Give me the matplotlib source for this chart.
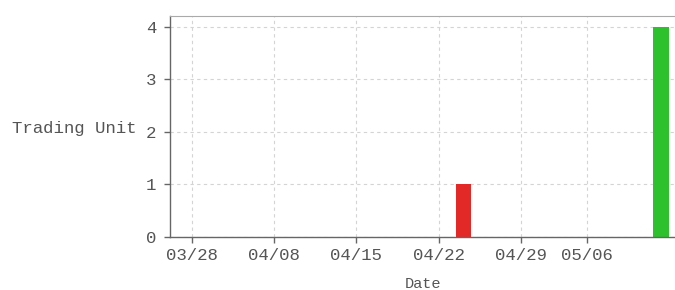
import numpy as np
import matplotlib.pyplot as plt

# trading days shown on the axis (one slot per day)
days = ['03/28', '03/29', '03/30', '03/31', '04/01', '04/08', '04/11', '04/12',
        '04/13', '04/14', '04/15', '04/18', '04/19', '04/20', '04/21', '04/22',
        '04/25', '04/26', '04/27', '04/28', '04/29', '05/03', '05/04', '05/05',
        '05/06', '05/09', '05/10', '05/11', '05/12']
sell_units = [0, 0, 0, 0, 0, 0, 0, 0, 0, 0, 0, 0, 0, 0, 0, 0,
              1, 0, 0, 0, 0, 0, 0, 0, 0, 0, 0, 0, 0]
buy_units = [0, 0, 0, 0, 0, 0, 0, 0, 0, 0, 0, 0, 0, 0, 0, 0,
             0, 0, 0, 0, 0, 0, 0, 0, 0, 0, 0, 0, 4]
tick_days = ['03/28', '04/08', '04/15', '04/22', '04/29', '05/06']
y_ticks = [0, 1, 2, 3, 4]

plt.rcParams['font.family'] = ['Liberation Mono', 'DejaVu Sans Mono']

fig = plt.figure(figsize=(6.75, 2.9), dpi=100)
ax = fig.add_axes([170 / 675, 53 / 290, 505 / 675, 221 / 290])

x = np.arange(len(days))
ax.bar(x + 0.5, sell_units, width=0.92, color='#e32828')
ax.bar(x + 0.5, buy_units, width=0.92, color='#2dc12d')

ax.set_xlim(-1.32, 29.35)
ax.set_ylim(0, 4.2)
ax.set_xticks([days.index(d) for d in tick_days])
ax.set_xticklabels(tick_days)
ax.set_yticks(y_ticks)

ax.grid(True, color='#d4d4d4', linestyle=(0, (3, 3)), linewidth=0.8)
ax.set_axisbelow(True)

for s in ['left', 'bottom']:
    ax.spines[s].set_color('#666666')
    ax.spines[s].set_linewidth(1.0)
ax.spines['top'].set_color('#aaaaaa')
ax.spines['right'].set_visible(False)

ax.tick_params(axis='both', direction='out', length=4, width=1, color='#666666',
               labelcolor='#555555', labelsize=12.5)
ax.tick_params(axis='y', pad=6)
ax.tick_params(axis='x', pad=4)

ax.set_xlabel('Date', fontsize=11, color='#555555', labelpad=10)
fig.text(12 / 675, 1 - 128 / 290, 'Trading Unit', fontsize=12.5, color='#555555',
         ha='left', va='center')

fig.savefig('out.png', dpi=100)
